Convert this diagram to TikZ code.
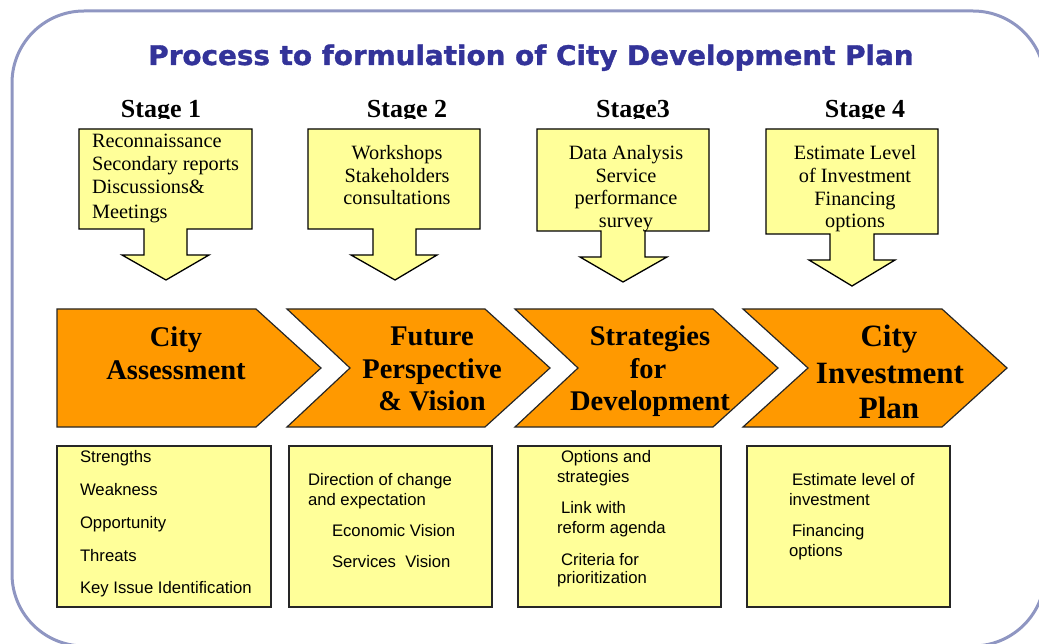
\documentclass[tikz,border=0pt]{standalone}
\usepackage{fontspec}
\setmainfont{Liberation Serif}
\newfontfamily\serifbody{Liberation Serif}
\newfontfamily\sansbody{Liberation Sans}
\newfontfamily\headfont{DejaVu Sans}[BoldFeatures={FakeBold=1.3}]
\definecolor{framecol}{HTML}{8F96C2}
\definecolor{titlecol}{HTML}{333399}
\definecolor{noteyellow}{HTML}{FFFF99}
\definecolor{stageorange}{HTML}{FF9900}
\tikzset{
  frameline/.style={draw=framecol,line width=3pt,rounded corners=72pt},
  callout/.style={draw=black,fill=noteyellow,line width=1.3pt,line join=miter},
  chevron/.style={draw=black!85,fill=stageorange,line width=1.2pt,line join=miter},
  notebox/.style={draw=black!85,fill=noteyellow,line width=1.2pt},
  txt/.style={inner sep=0pt,outer sep=0pt},
  stagelbl/.style={txt,anchor=base,font=\serifbody\bfseries\fontsize{26}{28}\selectfont},
  calltxt/.style={txt,font=\serifbody\fontsize{20.3}{22}\selectfont},
  chevtxt/.style={txt,anchor=base,font=\serifbody\bfseries\fontsize{28.5}{30}\selectfont},
  chevbig/.style={txt,anchor=base,font=\serifbody\bfseries\fontsize{31}{33}\selectfont},
  listtxt/.style={txt,anchor=base west,font=\sansbody\fontsize{16.7}{18}\selectfont},
}
\begin{document}
\begin{tikzpicture}[x=1pt,y=-1pt]
\useasboundingbox (0,0) rectangle (1039,644);
\begin{scope}
\clip (0,0) rectangle (1039,644);

% rounded outer frame (runs off the right and bottom edges)
\draw[frameline] (12,11) rectangle (1045,646);

% heading
\node[txt,anchor=base,text=titlecol,font=\headfont\bfseries\fontsize{27}{30}\selectfont]
  (title) at (531,65) {\scalebox{1.03}[1]{Process to formulation of City Development Plan}};

% stage labels (their lower edge is cut by the note boxes)
\begin{scope}
\clip (0,0) rectangle (1039,119);
\node[stagelbl] (st1) at (161,118) {Stage 1};
\node[stagelbl] (st2) at (407,118) {Stage 2};
\node[stagelbl] (st3) at (633,118) {Stage3};
\node[stagelbl] (st4) at (865,118) {Stage 4};
\end{scope}

% down-arrow callouts
\draw[callout] (79,129) -- (252,129) -- (252,229) -- (187,229) -- (187,255) -- (209,255)
  -- (166,280) -- (122,255) -- (144,255) -- (144,229) -- (79,229) -- cycle;
\draw[callout] (308,129) -- (480,129) -- (480,229) -- (416,229) -- (416,255) -- (437,255)
  -- (395,280) -- (351,255) -- (373,255) -- (373,229) -- (308,229) -- cycle;
\draw[callout] (537,129) -- (709,129) -- (709,231) -- (645,231) -- (645,257) -- (667,257)
  -- (623,282) -- (580,257) -- (601,257) -- (601,231) -- (537,231) -- cycle;
\draw[callout] (766,129) -- (938,129) -- (938,234) -- (874,234) -- (874,260) -- (895,260)
  -- (852,286) -- (809,260) -- (830,260) -- (830,234) -- (766,234) -- cycle;

% callout texts
\foreach \t/\yy [count=\i] in {Reconnaissance/148, Secondary reports/171,
    Discussions\&/194, Meetings/219}
  \node[calltxt,anchor=base west,name=ca\i] at (92,\yy) {\t};
\foreach \t/\yy [count=\i] in {Workshops/160, Stakeholders/183, consultations/205}
  \node[calltxt,anchor=base,name=cb\i] at (397,\yy) {\t};
\foreach \t/\yy [count=\i] in {Data Analysis/160, Service/183, performance/205, survey/228}
  \node[calltxt,anchor=base,name=cc\i] at (626,\yy) {\t};
\foreach \t/\yy [count=\i] in {Estimate Level/160, of Investment/183, Financing/206, options/228}
  \node[calltxt,anchor=base,name=cd\i] at (855,\yy) {\t};

% process chevrons
\draw[chevron] (57,309) -- (256,309) -- (321,368) -- (256,427) -- (57,427) -- cycle;
\draw[chevron] (287,309) -- (485,309) -- (550,368) -- (485,427) -- (287,427) -- (350,368) -- cycle;
\draw[chevron] (515,309) -- (713,309) -- (778,368) -- (713,427) -- (515,427) -- (578,368) -- cycle;
\draw[chevron] (743,309) -- (942,309) -- (1007,368) -- (942,427) -- (743,427) -- (808,368) -- cycle;

\node[chevtxt] (ka1) at (176,347) {City};
\node[chevtxt] (ka2) at (176,379) {Assessment};
\node[chevtxt] (kb1) at (432,345) {Future};
\node[chevtxt] (kb2) at (432,378) {Perspective};
\node[chevtxt] (kb3) at (432,410) {\& Vision};
\node[chevtxt] (kc1) at (650,345) {Strategies};
\node[chevtxt] (kc2) at (648,378) {for};
\node[chevtxt] (kc3) at (650,410) {Development};
\node[chevbig] (kd1) at (889,347) {City};
\node[chevbig] (kd2) at (890,383) {Investment};
\node[chevbig] (kd3) at (889,418) {Plan};

% detail boxes
\draw[notebox] (57,446) rectangle (271,607);
\draw[notebox] (289,446) rectangle (492,607);
\draw[notebox] (518,446) rectangle (721,607);
\draw[notebox] (747,446) rectangle (950,607);

\foreach \t/\yy [count=\i] in {Strengths/462, Weakness/495, Opportunity/528,
    Threats/561, Key Issue Identification/593}
  \node[listtxt,name=la\i] at (80,\yy) {\t};

\node[listtxt] (lb1) at (308,485) {Direction of change};
\node[listtxt] (lb2) at (308,505) {and expectation};
\node[listtxt] (lb3) at (332,536) {Economic Vision};
\node[listtxt] (lb4) at (332,567) {Services~~Vision};

\node[listtxt] (lc1) at (561,462) {Options and};
\node[listtxt] (lc2) at (557,482) {strategies};
\node[listtxt] (lc3) at (561,513) {Link with};
\node[listtxt] (lc4) at (557,533) {reform agenda};
\node[listtxt] (lc5) at (561,565) {Criteria for};
\node[listtxt] (lc6) at (557,583) {prioritization};

\node[listtxt] (ld1) at (792,485) {Estimate level of};
\node[listtxt] (ld2) at (789,505) {investment};
\node[listtxt] (ld3) at (792,536) {Financing};
\node[listtxt] (ld4) at (789,556) {options};
\end{scope}
\end{tikzpicture}
\end{document}
